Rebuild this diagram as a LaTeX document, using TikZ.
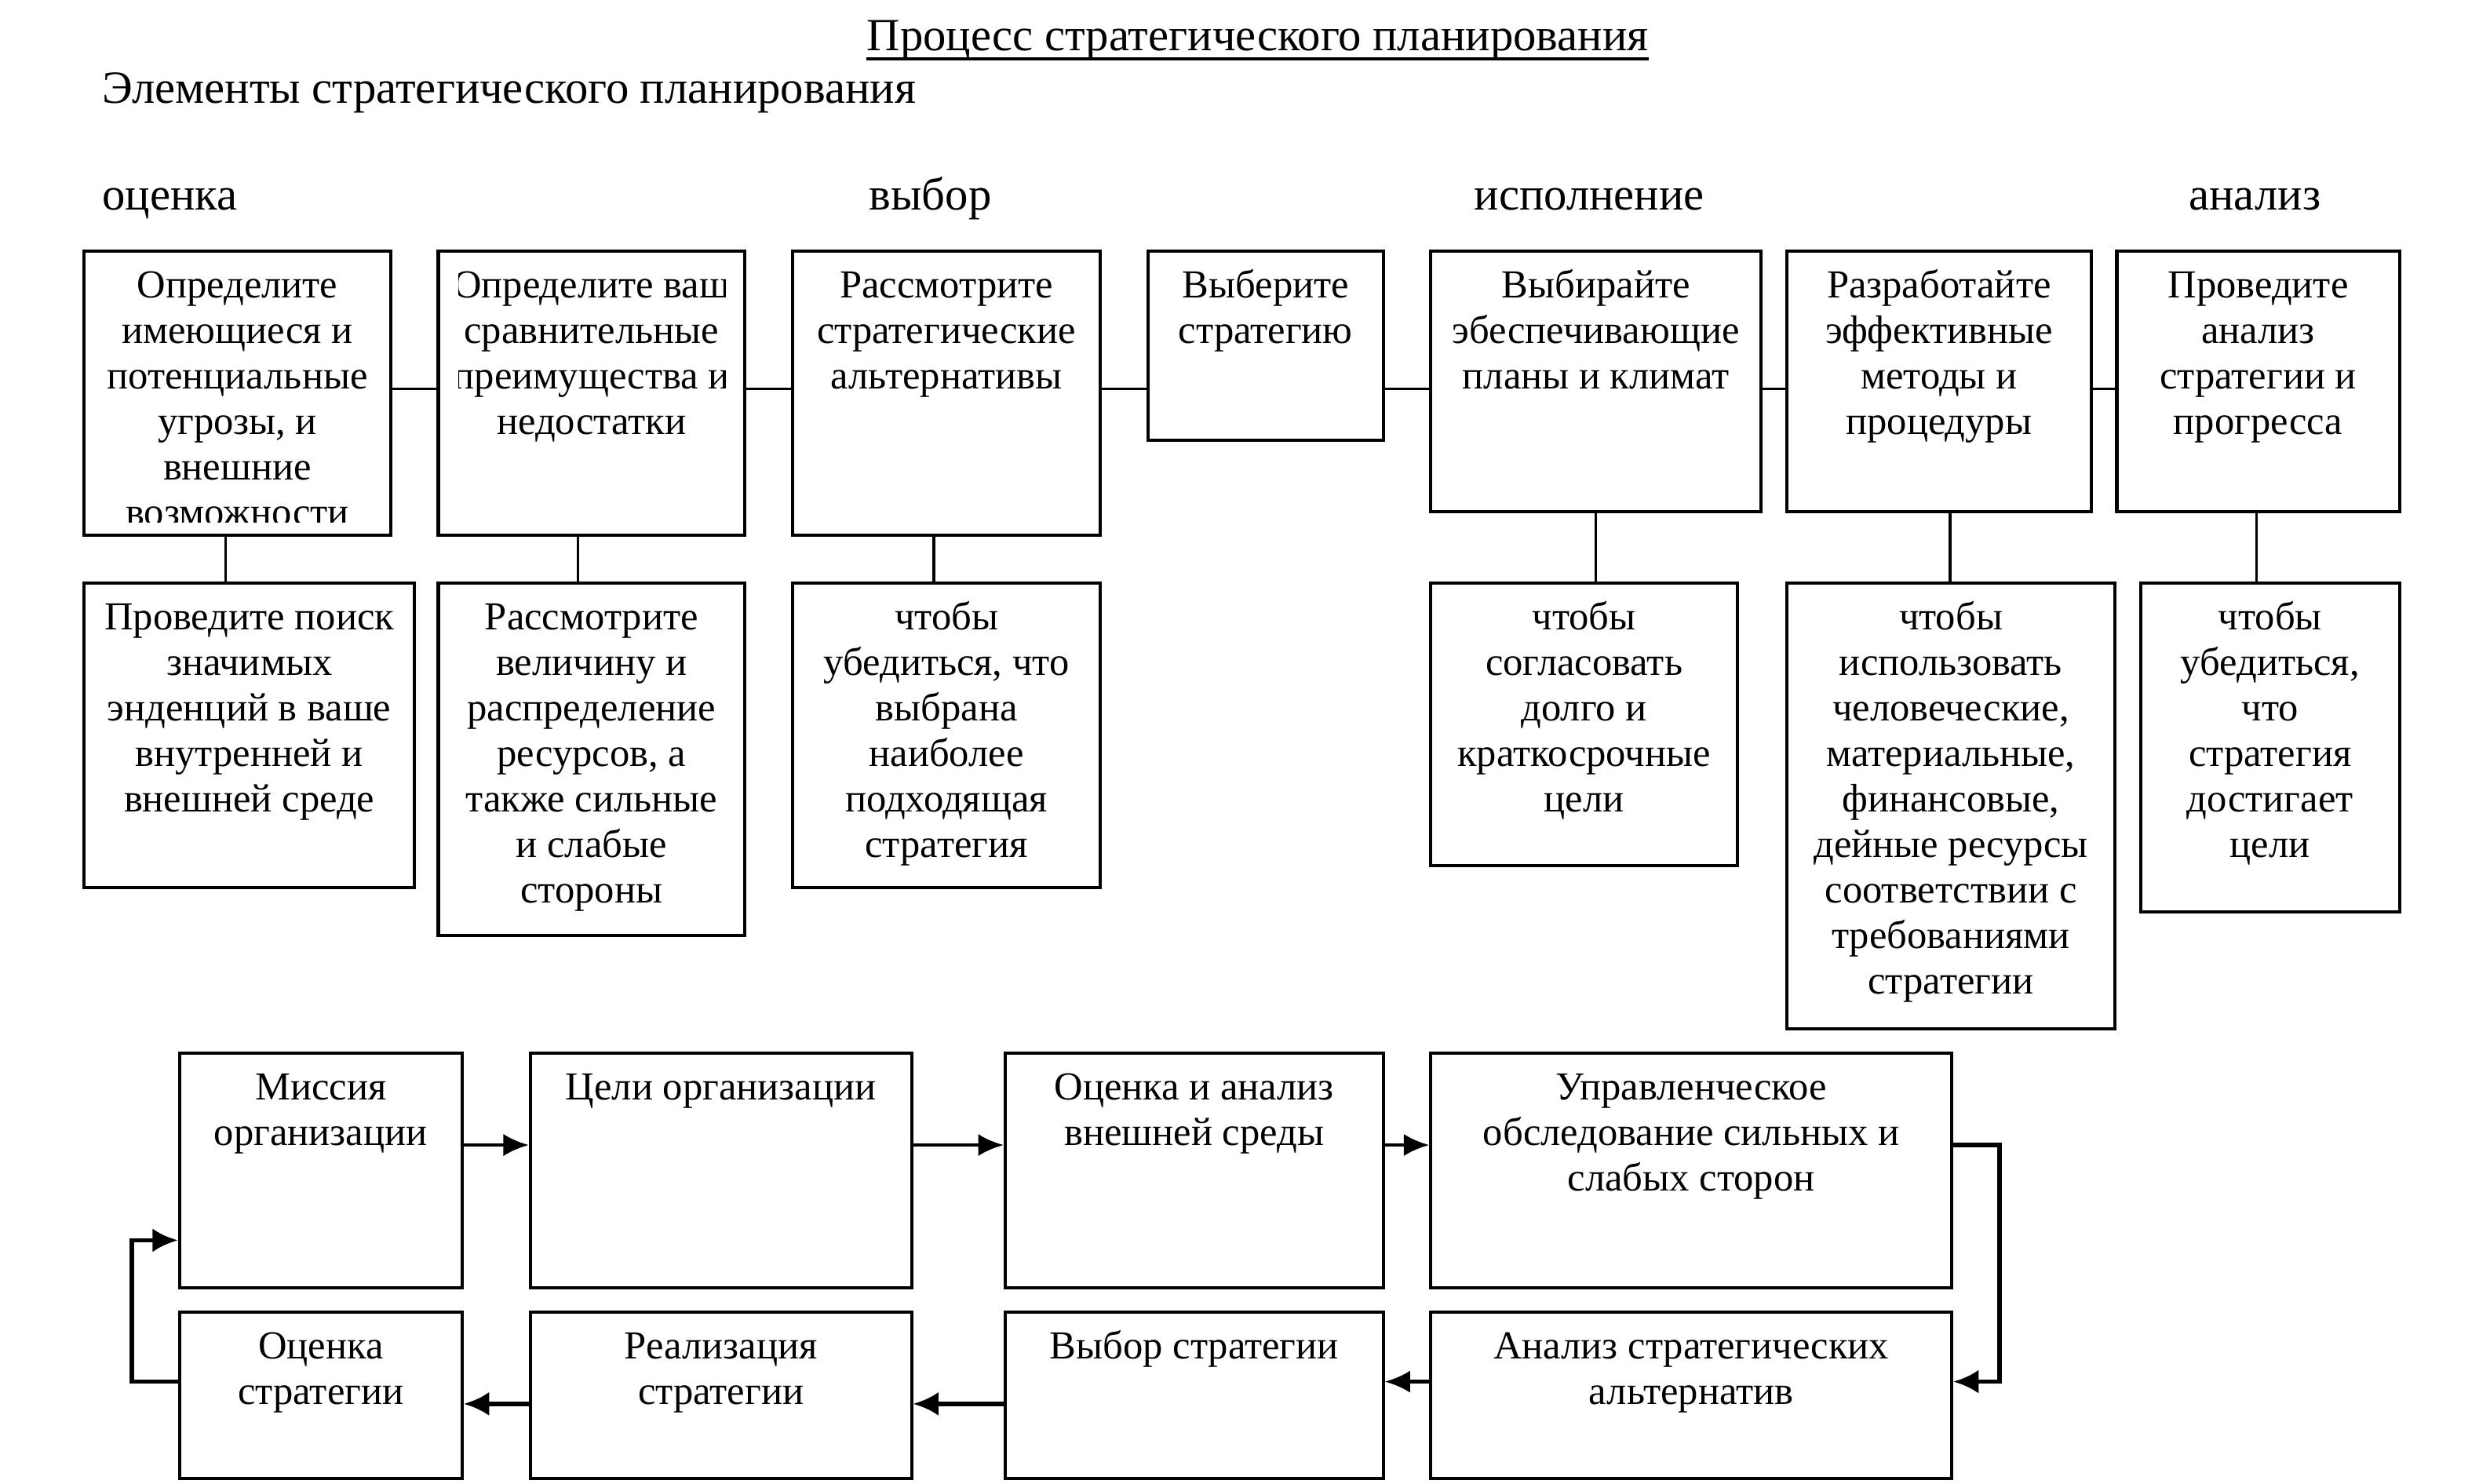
\documentclass[tikz,border=0pt]{standalone}
\usepackage{fontspec}
\setmainfont{Liberation Serif}
\usetikzlibrary{arrows.meta}
\tikzset{
  box/.style={draw, line width=1pt, inner sep=0pt, anchor=north west},
  btxt/.style={anchor=north, align=center, inner sep=0pt, font=\fontsize{12.5}{14.35}\selectfont},
  head/.style={anchor=base west, inner sep=0pt, font=\fontsize{14.5}{16}\selectfont},
  link/.style={line width=0.8pt},
  arr/.style={line width=1.1pt, -{Latex[length=8pt,width=7pt]}},
  arrb/.style={line width=1.4pt, -{Latex[length=8pt,width=7.5pt]}},
}
\newcommand\bx[5]{\node[box, minimum width={(#4-#2)*0.5pt}, minimum height={(#5-#3)*0.5pt}] (#1) at (#2,#3) {};}
\newcommand\tx[2]{\node[btxt] (#1t) at ([yshift=-5pt]#1.north) {\strut #2};}
\begin{document}
\begin{tikzpicture}[x=0.5pt,y=-0.5pt]
\useasboundingbox (0,0) rectangle (1568,934);
% titles
\node[anchor=base, inner sep=0pt, font=\fontsize{14.5}{16}\selectfont] (title) at (792,32) {Процесс стратегического планирования};
\draw[line width=0.8pt] ([yshift=-2.5pt]title.base west) -- ([yshift=-2.5pt]title.base east);
\node[head] (sub) at (64,65) {Элементы стратегического планирования};
\node[head] (h1) at (64,132) {оценка};
\node[head] (h2) at (547,132) {выбор};
\node[head] (h3) at (928,132) {исполнение};
\node[head] (h4) at (1378,132) {анализ};
% upper boxes
\bx{a1}{52}{157}{245}{336}
\bx{b1}{275}{157}{468}{336}
\bx{c1}{498}{157}{692}{336}
\bx{d1}{722}{157}{870}{276}
\bx{e1}{900}{157}{1108}{321}
\bx{f1}{1124}{157}{1316}{321}
\bx{g1}{1332}{157}{1510}{321}
\bx{a2}{52}{366}{260}{558}
\bx{b2}{275}{366}{468}{588}
\bx{c2}{498}{366}{692}{558}
\bx{e2}{900}{366}{1093}{544}
\bx{f2}{1124}{366}{1331}{647}
\bx{g2}{1347}{366}{1510}{573}
\begin{scope}
\clip ([yshift=4.5pt]a1.south west) rectangle (a1.north east);
\tx{a1}{Определите\\имеющиеся и\\потенциальные\\угрозы, и\\внешние\\возможности}
\end{scope}
\begin{scope}
\clip ([xshift=7pt]b1.south west) rectangle ([xshift=-6.5pt]b1.north east);
\tx{b1}{Определите ваш\\сравнительные\\преимущества и\\недостатки}
\end{scope}
\tx{c1}{Рассмотрите\\стратегические\\альтернативы}
\tx{d1}{Выберите\\стратегию}
\tx{e1}{Выбирайте\\эбеспечивающие\\планы и климат}
\tx{f1}{Разработайте\\эффективные\\методы и\\процедуры}
\tx{g1}{Проведите\\анализ\\стратегии и\\прогресса}
\tx{a2}{Проведите поиск\\значимых\\энденций в ваше\\внутренней и\\внешней среде}
\tx{b2}{Рассмотрите\\величину и\\распределение\\ресурсов, а\\также сильные\\и слабые\\стороны}
\tx{c2}{чтобы\\убедиться, что\\выбрана\\наиболее\\подходящая\\стратегия}
\tx{e2}{чтобы\\согласовать\\долго и\\краткосрочные\\цели}
\tx{f2}{чтобы\\использовать\\человеческие,\\материальные,\\финансовые,\\дейные ресурсы\\соответствии с\\требованиями\\стратегии}
\tx{g2}{чтобы\\убедиться,\\что\\стратегия\\достигает\\цели}
% upper connectors
\draw[link] (a1.east |- 0,245) -- (b1.west |- 0,245);
\draw[link] (b1.east |- 0,245) -- (c1.west |- 0,245);
\draw[link] (c1.east |- 0,245) -- (d1.west |- 0,245);
\draw[link] (d1.east |- 0,245) -- (e1.west |- 0,245);
\draw[link] (e1.east |- 0,245) -- (f1.west |- 0,245);
\draw[link] (f1.east |- 0,245) -- (g1.west |- 0,245);
\draw[link] (142,0 |- a1.south) -- (142,0 |- a2.north);
\draw[link] (364,0 |- b1.south) -- (364,0 |- b2.north);
\draw[link] (588,0 |- c1.south) -- (588,0 |- c2.north);
\draw[link] (1005,0 |- e1.south) -- (1005,0 |- e2.north);
\draw[link] (1228,0 |- f1.south) -- (1228,0 |- f2.north);
\draw[link] (1421,0 |- g1.south) -- (1421,0 |- g2.north);
% lower process
\bx{m1}{112}{662}{290}{810}
\bx{m2}{333}{662}{573}{810}
\bx{m3}{632}{662}{870}{810}
\bx{m4}{900}{662}{1228}{810}
\bx{n1}{112}{825}{290}{930}
\bx{n2}{333}{825}{573}{930}
\bx{n3}{632}{825}{870}{930}
\bx{n4}{900}{825}{1228}{930}
\tx{m1}{Миссия\\организации}
\tx{m2}{Цели организации}
\tx{m3}{Оценка и анализ\\внешней среды}
\tx{m4}{Управленческое\\обследование сильных и\\слабых сторон}
\tx{n1}{Оценка\\стратегии}
\tx{n2}{Реализация\\стратегии}
\tx{n3}{Выбор стратегии}
\tx{n4}{Анализ стратегических\\альтернатив}
\draw[arr] (m1.east |- 0,721) -- (m2.west |- 0,721);
\draw[arr] (m2.east |- 0,721) -- (m3.west |- 0,721);
\draw[arr] (m3.east |- 0,721) -- (m4.west |- 0,721);
\draw[arrb] (m4.east |- 0,721) -- ++(29,0) |- (n4.east |- 0,870);
\draw[arr] (n4.west |- 0,870) -- (n3.east |- 0,870);
\draw[arrb] (n3.west |- 0,884) -- (n2.east |- 0,884);
\draw[arrb] (n2.west |- 0,884) -- (n1.east |- 0,884);
\draw[arrb] (n1.west |- 0,870) -- ++(-29,0) |- (m1.west |- 0,781);
\end{tikzpicture}
\end{document}
